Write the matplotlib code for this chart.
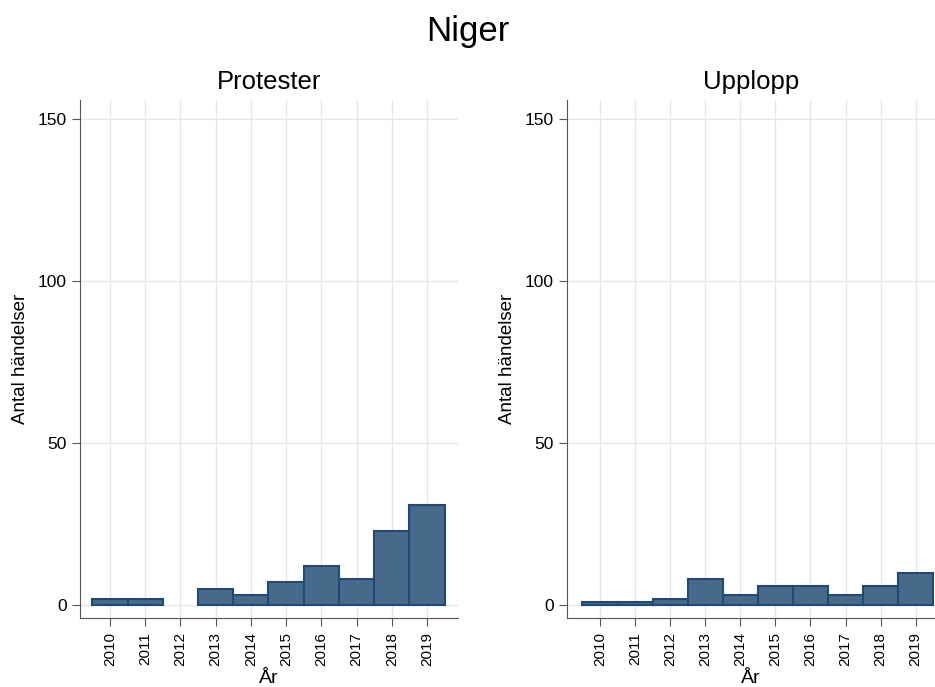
import matplotlib
matplotlib.use("Agg")
import matplotlib.pyplot as plt

years = [2010, 2011, 2012, 2013, 2014, 2015, 2016, 2017, 2018, 2019]
protester = [2, 2, 0, 5, 3, 7, 12, 8, 23, 31]
upplopp = [1, 1, 2, 8, 3, 6, 6, 3, 6, 10]
titles = ["Protester", "Upplopp"]
yticks = [0, 50, 100, 150]

plt.rcParams['font.family'] = ['Liberation Sans', 'DejaVu Sans']
fig = plt.figure(figsize=(9.35, 6.87), dpi=100)
fig.patch.set_facecolor('white')
fig.text(0.5, 1 - 32/687, "Niger", fontsize=25, ha='center', va='center')

axes_pos = [[80/935, 1-618/687, 378/935, 518/687],
            [567/935, 1-618/687, 368/935, 518/687]]
xlims = [(2009.15, 2019.88), (2009.06, 2019.55)]

for pos, vals, title, xl in zip(axes_pos, [protester, upplopp], titles, xlims):
    ax = fig.add_axes(pos)
    lws = [1.5 if v > 0 else 0 for v in vals]
    ax.bar(years, vals, width=1.0, color='#476a8a', edgecolor='#1f4a74', linewidth=lws, zorder=3)
    ax.set_ylim(-4, 156)
    ax.set_xlim(*xl)
    ax.set_xticks(years)
    ax.set_xticklabels([str(y) for y in years], rotation=90, fontsize=11)
    ax.set_yticks(yticks)
    ax.set_yticklabels([str(t) for t in yticks], fontsize=12.5)
    ax.grid(True, color='#e6e6e6', linewidth=1, zorder=0)
    ax.set_axisbelow(True)
    for s in ['top', 'right']:
        ax.spines[s].set_visible(False)
    for s in ['left', 'bottom']:
        ax.spines[s].set_color('#555555')
    ax.tick_params(axis='both', color='#555555', length=6, direction='out')
    ax.tick_params(axis='x', pad=4)
    ax.set_title(title, fontsize=18.5, pad=8)
    ax.set_xlabel("År", fontsize=14, labelpad=3)
    ax.set_ylabel("Antal händelser", fontsize=13.5, labelpad=6)

fig.savefig("out.png", dpi=100, facecolor='white')
